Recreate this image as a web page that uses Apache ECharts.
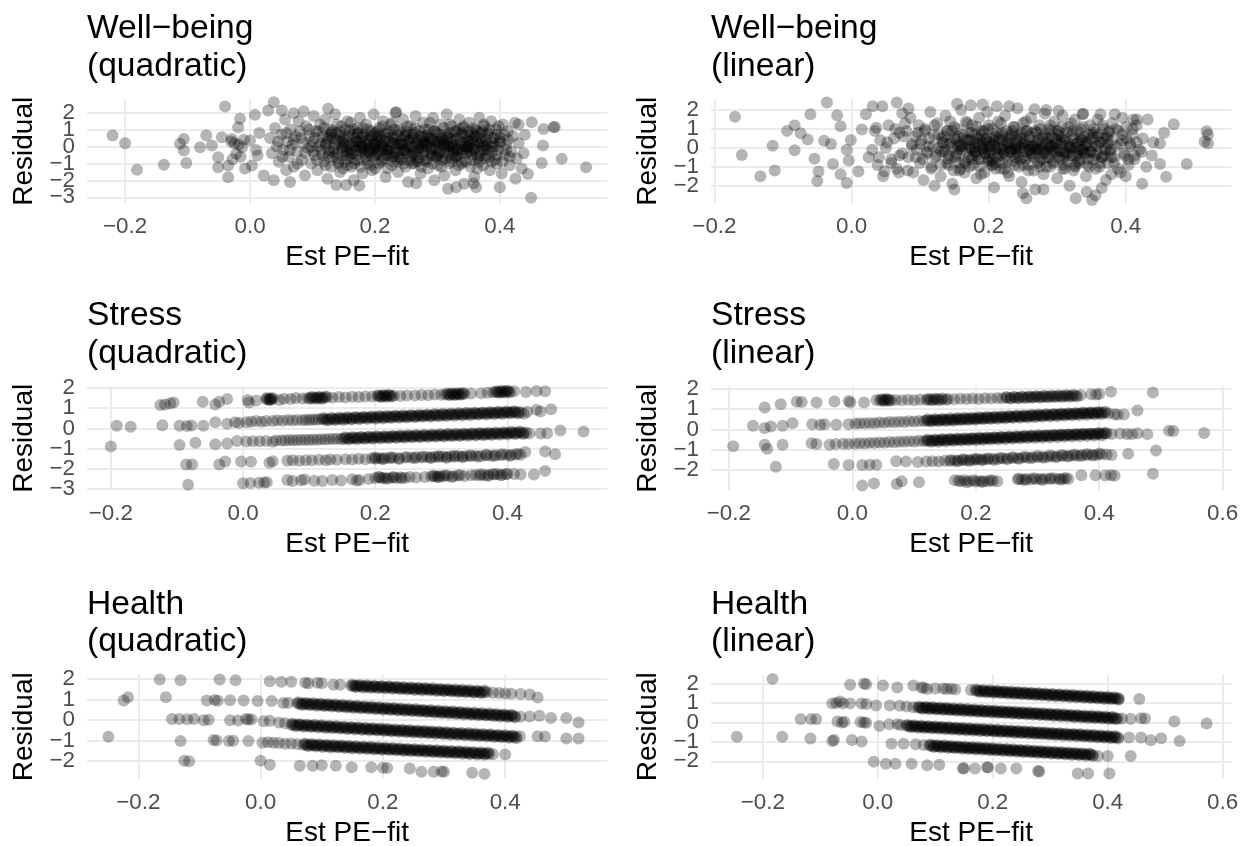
<!DOCTYPE html>
<html><head><meta charset="utf-8">
<script src="https://cdn.jsdelivr.net/npm/echarts@6/dist/echarts.min.js"></script>
<style>html,body{margin:0;padding:0;background:#fff}#c{width:1248px;height:846px}</style>
</head><body><div id="c"></div>
<script>
// ---------- tick labels ----------
const xTicks4 = [-0.2, 0, 0.2, 0.4];
const xTicks5 = [-0.2, 0, 0.2, 0.4, 0.6];
const yTicks6 = [-3, -2, -1, 0, 1, 2];
const yTicks5 = [-2, -1, 0, 1, 2];
const titles = ['Well\u2212being\n(quadratic)','Well\u2212being\n(linear)','Stress\n(quadratic)','Stress\n(linear)','Health\n(quadratic)','Health\n(linear)'];
const xName = 'Est PE\u2212fit';
const yName = 'Residual';

// ---------- data: [Est PE-fit, Residual] ----------
const wbQuadOut = [[-.22,.65],[-.2,.2],[-.181,-1.38],[-.138,-1.08],[-.112,.16],[-.106,.45],[-.102,-.97],[-.106,-.24],[-.08,-.04],[-.07,.65],[-.061,.06],[-.051,-.63],[-.051,-1.22],[-.045,.55],[-.04,2.36],[-.035,-1.81],[-.035,-1.12],[-.029,.45],[-.022,-.43],[-.019,1.14],[-.016,1.64],[-.013,-.04],[0,.35],[.003,-1.12],[.008,1.87],[.012,-.53],[.022,-1.71],[.029,2.13],[.038,2.62],[.038,-2.0],[.051,2.13],[.064,-2.1],[.07,1.97],[.086,2.09],[.125,2.23],[.138,-2.27],[.154,-2.27],[.175,-2.3],[.234,2.03],[.266,-2.17],[.317,-2.5],[.33,-2.4],[.358,-2.17],[.362,-2.4],[.4,-2.4],[.445,-1.62],[.45,-3.03],[.451,1.44],[.43,1.3],[.467,-.97],[.469,.06],[.47,1.04],[.486,1.14],[.488,1.16],[.499,-.73],[.538,-1.22],[-.03,.3],[-.025,.2],[-.018,.1],[-.01,.4],[-.028,-.75],[-.015,-.6],[-.008,-1.3],[.01,-.2],[.015,.8]];
const wbQuadCore = [[.032,.5],[.035,-.4],[.04,1.1],[.043,0],[.046,-.9],[.05,.7],[.053,-.2],[.056,1.6],[.058,-1.4],[.06,.3],
[.062,-.6],[.065,1.0],[.068,.1],[.07,-1.2],[.073,.6],[.076,-.3],[.078,1.5],[.08,.9],[.083,-.8],[.086,.2],[.088,-1.7],[.09,1.2],[.093,-.1],[.095,.6],[.098,-1.0],
[.1,.3],[.102,1.8],[.104,-.5],[.106,.9],[.108,-1.4],[.11,0],[.112,1.3],[.114,-.2],[.116,.6],[.118,-.9],[.12,1.6],[.122,.2],[.124,-1.9],[.126,-.4],[.128,1.0],[.13,-1.2],[.132,.5],[.134,-.1],[.136,1.9],[.138,.8],[.14,-.7],
[.142,.3],[.144,-1.5],[.146,1.2],[.148,-.3],[.15,.6],[.152,-.9],[.154,0],[.156,1.5],[.158,-.5],[.16,.9],[.162,-1.2],[.164,.2],[.166,-2.0],[.168,.5],[.17,-.2],[.172,1.1],[.174,-.8],[.176,1.7],[.178,.1],[.18,-1.6],[.182,.7],[.184,-.4],[.186,1.3],[.188,-1.0],[.19,.4],[.192,-.1],[.194,.9],[.196,-.6],[.198,1.9],[.2,.2],
[.201,-1.3],[.203,.6],[.205,-.3],[.207,1.1],[.209,0],[.211,-.8],[.213,1.5],[.215,.3],[.217,-1.8],[.219,-.5],[.221,.8],[.223,-.1],[.225,1.3],[.227,-1.1],[.229,.5],[.231,-.4],[.233,2.0],[.235,.1],[.237,-1.5],[.239,.9],[.241,-.7],[.243,.4],[.245,1.6],[.247,-.2],[.249,-1.2],[.251,.7],[.253,-2.1],[.255,0],[.257,1.2],[.259,-.6],
[.261,.5],[.263,-1.0],[.265,1.8],[.267,.2],[.269,-.3],[.271,.9],[.273,-1.6],[.275,-.1],[.277,1.4],[.279,.6],[.281,-.8],[.283,.1],[.285,-1.3],[.287,1.0],[.289,-.4],[.291,.4],[.293,1.7],[.295,-2.0],[.297,-.2],[.299,.8],[.301,-1.1],[.303,.3],[.305,1.3],[.307,-.6],[.309,0],[.311,-1.7],[.313,.7],[.315,1.9],[.317,-.3],[.319,-1.0],
[.321,.5],[.323,1.2],[.325,-.5],[.327,.1],[.329,-1.4],[.331,.9],[.333,-.2],[.335,1.6],[.337,.3],[.339,-.9],[.341,1.1],[.343,-2.2],[.345,.6],[.347,-.4],[.349,0],[.351,1.4],[.353,-1.2],[.355,.8],[.357,-.1],[.359,-1.8],[.361,1.0],[.363,.3],[.365,-.7],[.367,1.7],[.369,-.3],[.371,.5],[.373,-1.1],[.375,1.2],[.377,0],[.379,-.5],
[.381,.8],[.384,-1.4],[.386,1.5],[.389,.2],[.392,-.8],[.394,1.0],[.397,-.2],[.4,.5],[.403,-1.6],[.405,1.3],[.408,-.5],[.41,.1],[.413,.9],[.416,-1.1],[.418,-.3],[.421,.6],[.424,1.4],[.427,-.7],[.43,.2],[.435,-1.3],[.44,.7],[.438,-.4],[.425,-1.9],
[.17,.3],[.19,-.3],[.21,.4],[.22,-.2],[.24,.1],[.26,-.4],[.28,.3],[.3,-.5],[.32,0],[.34,-.2],[.36,.6],[.23,-.6],[.25,.9],[.27,-.9],[.29,.5],[.31,.2],[.33,-.6],[.35,.3],[.2,-.5],[.18,0]];
const wbQuadCore2 = [[.101,-.3],[.104,.5],[.107,-.8],[.11,.9],[.113,.2],[.116,-.5],[.119,1.1],[.121,-1.1],[.124,.4],[.127,-.2],[.13,.8],[.133,-.6],[.136,.1],[.139,1.3],[.141,-.9],[.144,.6],[.147,-.1],[.149,-1.3],
[.151,.4],[.153,1.0],[.155,-.3],[.157,-.7],[.159,.1],[.161,1.4],[.163,-.4],[.165,.7],[.167,-1.0],[.169,.3],[.171,-.5],[.173,.8],[.175,0],[.177,-1.2],[.179,.5],[.181,1.1],[.183,-.2],[.185,.3],[.187,-.8],[.189,1.0],[.191,-.4],[.193,.6],[.195,-1.4],[.197,.2],[.199,-.1],
[.2,.8],[.202,-.5],[.204,.3],[.206,-1.0],[.208,.6],[.21,-.2],[.212,1.2],[.214,-.7],[.216,0],[.218,.5],[.22,-1.3],[.222,.9],[.224,-.4],[.226,.2],[.228,1.4],[.23,-.9],[.232,.4],[.234,-.1],[.236,.7],[.238,-.6],[.24,1.0],[.242,-.3],[.244,.1],[.246,-1.0],[.248,.6],[.25,-.4],[.252,1.2],[.254,.3],[.256,-.8],[.258,0],
[.26,.7],[.262,-.3],[.264,1.1],[.266,-.9],[.268,.4],[.27,-.1],[.272,.6],[.274,-1.2],[.276,.2],[.278,-.5],[.28,1.0],[.282,0],[.284,-.7],[.286,.5],[.288,1.4],[.29,-.2],[.292,-1.0],[.294,.3],[.296,.9],[.298,-.6],[.3,.2],
[.302,-.4],[.304,.7],[.306,-1.2],[.308,.4],[.31,1.1],[.312,-.1],[.314,-.7],[.316,.5],[.318,0],[.32,1.3],[.322,-.9],[.324,.3],[.326,-.3],[.328,.9],[.33,-.6],[.332,.5],[.334,-1.1],[.336,.1],[.338,.7],[.34,-.4],[.342,1.2],[.344,0],[.346,-.9],[.348,.4],
[.35,.9],[.352,-.3],[.354,.3],[.356,-.8],[.358,1.1],[.36,-.1],[.362,.6],[.364,-1.3],[.366,.2],[.368,-.5],[.37,.8],[.372,0],[.374,1.3],[.376,-.7],[.378,.4],[.38,-.2],[.383,1.0],[.386,-.9],[.389,.5],[.392,0],[.395,-.5],[.398,1.2],[.401,.3],[.404,-.9],[.407,.7],[.41,-.2],[.413,.4],[.416,-.6],
[.045,.3],[.052,-.6],[.058,.8],[.064,-.2],[.07,.4],[.076,-1.0],[.082,.5],[.088,-.4],[.094,1.0],[.097,0]];
const wbQuadCore3 = [[.121,.1],[.125,-.6],[.129,.7],[.133,-.3],[.137,.4],[.141,-1.0],[.145,.9],[.149,0],
[.153,-.5],[.157,.6],[.161,-.2],[.165,1.0],[.169,-.8],[.173,.3],[.177,-.1],[.181,.6],[.185,-.6],[.189,.1],[.193,-1.1],[.197,.7],
[.201,0],[.203,-.4],[.207,.5],[.211,-.9],[.215,.8],[.219,-.2],[.223,.3],[.227,-.6],[.231,1.0],[.235,-.3],[.239,.2],[.243,-.8],[.247,.6],[.251,-.1],[.255,.4],[.259,-1.0],
[.263,.8],[.267,-.5],[.271,.1],[.275,.6],[.279,-.3],[.283,-.9],[.287,.3],[.291,-.1],[.295,.9],[.299,-.6],
[.303,.1],[.307,.5],[.311,-.4],[.315,0],[.319,.8],[.323,-.7],[.327,.4],[.331,-.2],[.335,1.0],[.339,-1.0],[.343,.2],[.347,-.3],
[.351,.6],[.355,-.5],[.359,.1],[.363,.9],[.367,-.9],[.371,.3],[.375,-.2],[.379,.7],[.383,-.6],[.387,0],[.391,.5],[.395,-1.0],[.399,.2],
[.124,.5],[.132,.9],[.14,-.4],[.148,.3],[.156,-1.1],[.164,-.4],[.172,.8],[.18,-.3],[.188,.4],[.196,-.2],[.204,.9],[.212,.1],[.22,-.5],[.228,.6],[.236,-.9],[.244,.2],[.252,-.4],[.26,.5],[.268,-.7],[.276,0],[.284,.7],[.292,-.5],[.3,.3],[.308,-.8],[.316,.6],[.324,0],[.332,-.5],[.34,.8],[.348,-.1],[.356,.4],[.364,-.6],[.372,.9],[.38,.1],[.388,-.3],[.396,.7],
[.15,.2],[.166,0],[.182,-.1],[.198,.1],[.214,-.1],[.23,.2],[.246,-.2],[.262,0],[.278,.2],[.294,-.1],[.31,.1],[.326,-.1],[.342,0],[.358,-.2],[.374,.1]];

const wbLinOut = [[-.17,1.65],[-.16,-.37],[-.133,-1.5],[-.115,.11],[-.112,-1.2],[-.094,.9],[-.083,1.18],[-.083,-.12],[-.074,.78],[-.064,.45],[-.06,1.78],[-.054,-.58],[-.05,-1.75],[-.048,-1.25],[-.04,.38],[-.036,2.4],[-.03,.2],[-.027,-.85],[-.021,1.72],[-.016,1.14],[-.016,-1.4],[-.007,-1.86],[-.004,-.67],[-.001,.42],[-.007,-.1],[.01,-1.25],[.015,.97],[.021,1.78],[.025,-.49],[.031,2.2],[.036,1.06],[.04,-.49],[.045,2.2],[.048,-1.25],[.066,2.4],[.069,-1.3],[.074,1.83],[.083,2.08],
[.489,-.85],[.518,.88],[.52,.7],[.515,.33],[.52,.24],[.47,1.25],[.456,.8],[.459,-1.53],[.45,.24],[.45,-.85],[.424,-1.9],[.432,1.5],[.438,-.4],[.423,-.22],[.411,1.5],[.4,-1.5],[.379,-1.4],[.365,-2.12],[.351,-2.75],[.327,-2.66],[.356,-2.5],[.25,-2.4],[.255,-2.66],[.343,-2.33],[.28,-2.2],[.15,-2.2],[.121,-2.0],
[.154,2.33],[.174,2.25],[.191,2.3],[.212,2.2],[.23,2.2],[.267,2.05],[.284,2.0],[.302,1.96],[.337,1.78],[.363,1.78],[.384,1.78],[.395,1.6],[.416,1.5]];
const wbLinCore = [[.03,-.1],[.034,.9],[.038,-.9],[.042,.4],[.046,-1.5],[.05,0],[.054,1.2],[.058,-.6],[.062,.5],[.066,-1.1],[.07,.8],[.074,-.3],[.078,1.3],
[.08,.9],[.083,-.5],[.086,1.6],[.088,.2],[.09,-1.3],[.093,.6],[.095,-.1],[.098,1.2],[.1,-.8],[.102,.4],[.105,-1.7],[.107,1.0],[.11,-.3],[.112,.1],[.115,1.9],[.117,-1.0],[.12,.7],
[.122,-.5],[.125,1.3],[.127,0],[.13,-1.5],[.132,.5],[.135,-.2],[.137,1.7],[.14,.9],[.142,-.9],[.145,.3],[.147,-1.9],[.15,1.1],[.152,-.4],[.155,.6],[.157,-1.2],[.16,2.0],[.162,.1],[.165,-.7],[.167,1.4],
[.17,.4],[.172,-1.0],[.174,0],[.176,1.2],[.178,-.4],[.18,.7],[.182,-1.6],[.184,.2],[.186,1.6],[.188,-.6],[.19,.9],[.192,-.1],[.194,-1.3],[.196,.5],[.198,1.9],[.2,-.3],[.202,.1],[.204,-.9],[.206,1.0],[.208,-2.1],[.21,.6],[.212,-.5],[.214,1.4],[.216,0],[.218,-1.1],[.22,.8],[.222,-.2],[.224,1.7],[.226,.3],[.228,-.7],
[.23,-1.5],[.232,.5],[.234,-.1],[.236,1.1],[.238,-.9],[.24,.2],[.242,2.1],[.244,-.4],[.246,.7],[.248,-1.8],[.25,1.3],[.252,0],[.254,-.6],[.256,.9],[.258,-1.2],[.26,.4],[.262,1.6],[.264,-.3],[.266,.1],[.268,-2.2],[.27,.8],[.272,-.8],[.274,1.2],[.276,-.1],[.278,.5],[.28,-1.4],[.282,1.8],[.284,.2],[.286,-.5],[.288,1.0],
[.29,-1.0],[.292,.6],[.294,-.2],[.296,1.4],[.298,0],[.3,-1.6],[.302,.9],[.304,-.6],[.306,.3],[.308,1.7],[.31,-.9],[.312,.5],[.314,-.3],[.316,1.1],[.318,-2.0],[.32,.1],[.322,.7],[.324,-1.2],[.326,1.5],[.328,-.4],[.33,.3],[.332,-.8],[.334,1.0],[.336,-.1],[.338,1.8],[.34,.6],[.342,-1.5],[.344,.2],[.346,-.6],[.348,1.2],
[.35,-.2],[.353,.8],[.356,-1.1],[.359,1.5],[.362,.3],[.365,-.5],[.368,1.0],[.371,-1.7],[.374,.5],[.377,-.2],[.38,1.3],[.383,-.8],[.386,.1],[.389,.9],[.392,-1.3],[.395,.4],[.398,-.4],[.401,1.1],[.404,-.9],[.407,.2],[.41,.7],[.413,-.6],[.416,1.2],[.42,-.1],[.425,.5],[.43,-1.0],[.44,.3],
[.18,-.2],[.2,.3],[.21,-.1],[.22,.4],[.24,-.3],[.25,.2],[.26,-.1],[.27,.3],[.29,.1],[.3,.4],[.31,-.3],[.19,.2],[.23,0],[.28,-.2],[.2,-.6],[.33,-.3],[.24,.6],[.21,-.8]];
const wbLinCore2 = [[.101,.2],[.104,-.6],[.107,.9],[.11,-.2],[.113,.5],[.116,-1.1],[.119,.1],[.121,1.2],[.124,-.4],[.127,.7],[.13,-.9],[.133,.3],[.136,-.1],[.139,.9],[.141,-.6],[.144,1.4],[.147,0],[.149,-1.2],
[.151,.5],[.153,-.3],[.155,1.0],[.157,-.8],[.159,.2],[.161,-.1],[.163,.7],[.165,-1.3],[.167,.4],[.169,1.3],[.171,-.5],[.173,.1],[.175,.8],[.177,-.9],[.179,.3],[.181,-.2],[.183,1.1],[.185,-.6],[.187,.5],[.189,-1.4],[.191,0],[.193,.9],[.195,-.3],[.197,.4],[.199,-.7],
[.2,1.2],[.202,-.1],[.204,.5],[.206,-.6],[.208,.2],[.21,-1.1],[.212,.8],[.214,-.3],[.216,.4],[.218,1.3],[.22,-.8],[.222,.1],[.224,-.5],[.226,.9],[.228,-1.3],[.23,.3],[.232,-.2],[.234,.7],[.236,-.7],[.238,1.1],[.24,-.1],[.242,.4],[.244,-1.0],[.246,0],[.248,.8],[.25,-.5],[.252,.3],[.254,1.4],[.256,-.2],[.258,-.9],
[.26,.6],[.262,-.4],[.264,.1],[.266,-1.2],[.268,.9],[.27,-.1],[.272,.4],[.274,-.7],[.276,1.0],[.278,0],[.28,-.3],[.282,.7],[.284,-1.0],[.286,.3],[.288,-.5],[.29,1.2],[.292,.1],[.294,-.8],[.296,.5],[.298,-.2],[.3,.9],
[.302,-.5],[.304,.2],[.306,1.1],[.308,-1.1],[.31,.4],[.312,-.2],[.314,.8],[.316,-.7],[.318,0],[.32,1.3],[.322,-.4],[.324,.5],[.326,-1.0],[.328,.2],[.33,.9],[.332,-.1],[.334,-.6],[.336,.4],[.338,1.1],[.34,-.3],[.342,.1],[.344,-.9],[.346,.7],[.348,-.2],
[.35,.5],[.352,-.6],[.354,1.0],[.356,.1],[.358,-.3],[.36,.7],[.362,-1.0],[.364,.3],[.366,1.2],[.368,-.4],[.37,0],[.372,.6],[.374,-.8],[.376,.9],[.378,-.1],[.38,.4],[.383,-.5],[.386,1.0],[.389,-1.1],[.392,.2],[.395,.7],[.398,-.3],[.401,.5],[.404,-.6],[.407,.1],[.41,1.0],[.413,-.4],[.416,.3],
[.052,.3],[.058,-.8],[.064,1.0],[.07,-.4],[.076,.6],[.082,-1.2],[.088,.1],[.094,-.5],[.097,.8]];
const wbLinCore3 = [[.131,-.2],[.135,.6],[.139,-.8],[.143,.2],[.147,.9],[.151,-.5],[.155,.1],[.159,-1.1],[.163,.5],[.167,-.2],
[.171,.8],[.175,-.6],[.179,0],[.183,.5],[.187,-1.0],[.191,.3],[.195,-.3],[.199,1.0],[.203,-.7],[.207,.4],[.211,0],[.215,-.4],[.219,.7],[.223,-1.1],[.227,.2],[.231,-.2],[.235,.9],[.239,-.5],[.243,.1],[.247,.5],
[.251,-.9],[.255,.3],[.259,-.1],[.263,.8],[.267,-.5],[.271,.2],[.275,-1.0],[.279,.6],[.283,-.3],[.287,0],[.291,.9],[.295,-.7],[.299,.3],
[.303,-.2],[.307,.6],[.311,-1.1],[.315,.1],[.319,-.4],[.323,.9],[.327,0],[.331,-.7],[.335,.5],[.339,-.2],[.343,.3],[.347,-1.0],[.351,.7],[.355,-.4],[.359,.1],[.363,-.8],[.367,.5],[.371,-.1],[.375,.8],[.379,-.5],
[.134,.3],[.142,-.4],[.15,.5],[.158,0],[.166,-.8],[.174,.4],[.182,-.4],[.19,.7],[.198,-.1],[.206,-.9],[.214,.5],[.222,-.3],[.23,.6],[.238,0],[.246,-.6],[.254,.9],[.262,-.3],[.27,0],[.278,-.6],[.286,.5],[.294,-.1],[.302,.7],[.31,-.5],[.318,.2],[.326,-.9],[.334,.4],[.342,-.3],[.35,.1],[.358,.6],[.366,-.5],[.374,.2],
[.16,.1],[.176,-.1],[.192,0],[.208,.1],[.224,-.1],[.24,0],[.256,.1],[.272,-.1],[.288,.1],[.304,-.1],[.32,0],[.336,-.1]];

const sqA = [[-.125,1.15],[-.118,1.18],[-.11,1.23],[-.105,1.28],[-.061,1.32],[-.042,1.18],[-.036,1.32],[-.024,1.45],[.007,1.4],[.009,1.28],[.02,1.38],
[.035,1.45],[.038,1.42],[.04,1.47],[.042,1.43],[.045,1.46],[.055,1.4],[.062,1.47],[.072,1.45],[.08,1.5],[.09,1.48],[.098,1.5],[.103,1.52],[.107,1.49],[.11,1.51],[.114,1.53],[.118,1.5],[.122,1.52],[.127,1.54],[.135,1.52],[.145,1.55],[.155,1.53],[.165,1.56],[.175,1.55],[.185,1.58],[.195,1.57],[.203,1.6],[.207,1.58],[.211,1.61],[.215,1.59],[.219,1.62],[.223,1.6],[.228,1.61],[.238,1.6],[.248,1.63],[.26,1.62],[.27,1.65],[.28,1.64],[.29,1.67],[.3,1.66],[.306,1.68],[.311,1.67],[.315,1.7],[.319,1.68],[.323,1.7],[.327,1.69],[.331,1.71],[.335,1.7],[.345,1.72],[.36,1.73],[.37,1.76],[.378,1.78],[.382,1.8],[.386,1.79],[.39,1.82],[.394,1.8],[.398,1.83],[.402,1.81],[.41,1.84],[.428,1.8],[.444,1.85],[.457,1.83]];
const sqB = [[-.191,.13],[-.17,.08],[-.122,.15],[-.096,.13],[-.085,.12],[-.078,.14],[-.06,.13],[-.042,.3],[-.024,.23],[-.012,.3],[-.006,.26],[.005,.3],[.012,.33],
[.02,.36],[.028,.33],[.035,.37],[.045,.36],[.052,.4],[.06,.38],[.068,.41],[.075,.39],[.082,.42],[.09,.4],[.095,.43],[.1,.42],[.105,.44],[.11,.43],[.115,.45],
[.12,.46],[.124,.43],[.128,.47],[.132,.44],[.136,.48],[.14,.45],[.144,.49],[.148,.46],[.152,.5],[.156,.47],[.16,.51],[.164,.48],[.168,.52],[.172,.5],[.176,.53],[.18,.51],[.184,.54],[.188,.52],[.192,.55],[.196,.53],[.2,.56],[.204,.53],[.208,.57],[.212,.54],[.216,.58],[.22,.55],[.224,.59],[.228,.56],[.232,.6],[.236,.57],[.24,.6],[.244,.58],[.248,.61],[.252,.59],[.256,.62],[.26,.6],[.264,.63],[.268,.61],[.272,.64],[.276,.62],[.28,.65],[.284,.63],[.288,.66],[.292,.64],[.296,.67],[.3,.65],[.304,.68],[.308,.66],[.312,.69],[.316,.67],[.32,.7],[.324,.68],[.328,.71],[.332,.69],[.336,.72],[.34,.7],[.344,.73],[.348,.71],[.352,.74],[.356,.72],[.36,.75],[.364,.73],[.368,.76],[.372,.74],[.376,.77],[.38,.75],[.384,.78],[.388,.76],[.392,.79],[.396,.77],[.4,.8],[.404,.78],[.408,.81],[.412,.79],[.416,.81],[.42,.8],
[.425,.72],[.43,.82],[.444,.92],[.45,.84],[.466,.94]];
const sqB2 = [[.122,.51],[.128,.39],[.134,.52],[.14,.41],[.146,.54],[.152,.42],[.158,.55],[.164,.44],[.17,.56],[.176,.45],[.182,.58],[.188,.47],[.194,.59],[.2,.48],[.206,.61],[.212,.49],[.218,.62],[.224,.51],[.23,.64],[.236,.52],[.242,.65],[.248,.54],[.254,.66],[.26,.55],[.266,.68],[.272,.57],[.278,.69],[.284,.58],[.29,.71],[.296,.6],[.302,.72],[.308,.61],[.314,.74],[.32,.62],[.326,.75],[.332,.64],[.338,.77],[.344,.65],[.35,.78],[.356,.67],[.362,.79],[.368,.68],[.374,.81],[.38,.7],[.386,.82],[.392,.71],[.398,.84],[.404,.73],[.41,.85],[.416,.74]];
const sqC = [[-.2,-.9],[-.096,-.82],[-.072,-.71],[-.042,-.78],[-.024,-.75],[-.009,-.62],[.005,-.65],[.015,-.64],[.025,-.63],[.035,-.62],[.045,-.66],[.05,-.6],
[.058,-.6],[.064,-.6],[.07,-.58],[.076,-.59],[.082,-.57],[.088,-.58],[.094,-.56],[.1,-.57],[.106,-.55],[.112,-.56],[.118,-.54],[.124,-.55],[.13,-.52],[.136,-.53],[.142,-.51],[.148,-.52],
[.152,-.52],[.156,-.48],[.16,-.5],[.164,-.47],[.168,-.49],[.172,-.46],[.176,-.49],[.18,-.45],[.184,-.48],[.188,-.44],[.192,-.47],[.196,-.43],[.2,-.46],[.204,-.43],[.208,-.45],[.212,-.42],[.216,-.45],[.22,-.41],[.224,-.44],[.228,-.4],[.232,-.43],[.236,-.39],[.24,-.42],[.244,-.38],[.248,-.41],[.252,-.38],[.256,-.4],[.26,-.37],[.264,-.4],[.268,-.36],[.272,-.39],[.276,-.35],[.28,-.38],[.284,-.35],[.288,-.37],[.292,-.34],[.296,-.36],[.3,-.33],[.304,-.36],[.308,-.32],[.312,-.35],[.316,-.31],[.32,-.34],[.324,-.31],[.328,-.33],[.332,-.3],[.336,-.32],[.34,-.29],[.344,-.31],[.348,-.28],[.352,-.3],[.356,-.27],[.36,-.3],[.364,-.26],[.368,-.29],[.372,-.26],[.376,-.28],[.38,-.25],[.384,-.27],[.388,-.24],[.392,-.26],[.396,-.23],[.4,-.25],[.404,-.22],[.408,-.24],[.412,-.21],[.416,-.23],[.42,-.2],[.424,-.23],[.428,-.2],
[.433,-.25],[.45,-.25],[.46,-.24],[.48,-.11],[.515,-.16]];
const sqC2 = [[.154,-.44],[.16,-.55],[.166,-.43],[.172,-.54],[.178,-.41],[.184,-.53],[.19,-.4],[.196,-.51],[.202,-.39],[.208,-.5],[.214,-.38],[.22,-.49],[.226,-.36],[.232,-.48],[.238,-.35],[.244,-.46],[.25,-.34],[.256,-.45],[.262,-.33],[.268,-.44],[.274,-.31],[.28,-.43],[.286,-.3],[.292,-.41],[.298,-.29],[.304,-.4],[.31,-.27],[.316,-.39],[.322,-.26],[.328,-.38],[.334,-.25],[.34,-.36],[.346,-.24],[.352,-.35],[.358,-.22],[.364,-.34],[.37,-.21],[.376,-.33],[.382,-.2],[.388,-.31],[.394,-.19],[.4,-.3],[.406,-.17],[.412,-.29],[.418,-.16],[.424,-.28]];
const sqD = [[-.086,-1.78],[-.077,-1.78],[-.036,-1.78],[-.027,-1.64],[-.003,-1.64],[.012,-1.65],[.04,-1.7],[.045,-1.62],
[.067,-1.6],[.075,-1.58],[.085,-1.6],[.095,-1.57],[.104,-1.58],[.115,-1.55],[.125,-1.57],[.132,-1.54],[.142,-1.55],[.155,-1.52],[.165,-1.54],[.175,-1.5],[.185,-1.52],[.195,-1.48],[.2,-1.5],[.205,-1.47],[.21,-1.49],[.215,-1.46],[.222,-1.48],[.228,-1.45],[.236,-1.47],[.245,-1.44],[.255,-1.45],[.262,-1.42],[.27,-1.44],[.278,-1.41],[.284,-1.43],[.29,-1.4],[.296,-1.42],[.302,-1.39],[.308,-1.41],[.314,-1.38],[.32,-1.4],[.326,-1.37],[.332,-1.39],[.338,-1.36],[.345,-1.38],[.352,-1.35],[.36,-1.36],[.368,-1.33],[.375,-1.35],[.382,-1.32],[.39,-1.33],[.398,-1.3],[.405,-1.31],[.412,-1.29],[.42,-1.3],
[.427,-1.17],[.457,-1.14],[.472,-1.28]];
const sqE = [[-.083,-2.79],[0,-2.71],[.011,-2.7],[.024,-2.69],[.032,-2.68],[.036,-2.66],[.067,-2.55],[.075,-2.6],[.088,-2.56],[.093,-2.53],[.108,-2.59],[.12,-2.6],[.135,-2.55],[.148,-2.57],[.165,-2.52],[.172,-2.58],[.176,-2.55],[.19,-2.5],[.2,-2.45],[.205,-2.42],[.21,-2.47],[.214,-2.44],[.22,-2.46],[.226,-2.43],[.232,-2.45],[.238,-2.42],[.245,-2.44],[.252,-2.4],[.262,-2.43],[.275,-2.4],[.285,-2.38],[.29,-2.36],[.294,-2.39],[.298,-2.35],[.303,-2.37],[.31,-2.34],[.318,-2.36],[.325,-2.33],[.335,-2.35],[.345,-2.32],[.352,-2.3],[.358,-2.33],[.365,-2.3],[.372,-2.31],[.38,-2.28],[.385,-2.26],[.392,-2.29],[.398,-2.27],[.41,-2.26],[.42,-2.28],[.44,-2.28],[.457,-2.1]];
const sqExtra = [[.036,1.5],[.041,1.4],[.044,1.5],[.101,1.47],[.105,1.56],[.112,1.46],[.116,1.56],[.12,1.47],[.125,1.57],[.205,1.64],[.209,1.55],[.213,1.65],[.217,1.56],[.221,1.66],[.225,1.57],[.309,1.72],[.313,1.64],[.317,1.73],[.321,1.65],[.325,1.74],[.329,1.66],[.333,1.75],[.384,1.84],[.388,1.76],[.392,1.86],[.396,1.77],[.4,1.86],[.404,1.78],
[.2,-1.44],[.212,-1.52],[.224,-1.43],[.236,-1.51],[.248,-1.41],[.26,-1.48],[.272,-1.39],[.284,-1.47],[.296,-1.37],[.308,-1.45],[.32,-1.35],[.332,-1.43],[.344,-1.33],[.356,-1.4],[.368,-1.3],[.38,-1.37],[.392,-1.28],[.404,-1.35],[.416,-1.26],
[.207,-2.4],[.217,-2.49],[.228,-2.4],[.24,-2.47],[.288,-2.33],[.296,-2.41],[.306,-2.32],[.316,-2.4],[.328,-2.3],[.36,-2.27],[.37,-2.35],[.378,-2.25],[.39,-2.32],[.4,-2.24]];

const slA = [[-.142,1.08],[-.116,1.24],[-.09,1.36],[-.082,1.35],[-.058,1.32],[-.029,1.37],[-.006,1.4],[-.003,1.32],[.019,1.32],[.039,1.45],
[.045,1.42],[.05,1.46],[.054,1.43],[.058,1.47],[.062,1.44],[.07,1.45],[.08,1.43],[.09,1.46],[.1,1.44],[.11,1.47],[.12,1.45],[.126,1.48],[.132,1.46],[.138,1.49],[.145,1.47],[.155,1.5],[.165,1.48],[.175,1.51],[.185,1.5],[.195,1.52],[.205,1.5],[.215,1.53],[.225,1.52],[.235,1.55],[.243,1.53],[.25,1.56],[.257,1.55],[.264,1.57],[.27,1.56],[.277,1.58],[.284,1.57],[.29,1.6],[.296,1.59],[.302,1.61],[.308,1.6],[.314,1.62],[.32,1.61],[.326,1.63],[.332,1.62],[.338,1.64],[.344,1.63],[.35,1.65],[.356,1.64],[.362,1.66],[.37,1.68],
[.387,1.73],[.395,1.72],[.4,1.74],[.419,1.85],[.487,1.81]];
const slB = [[-.161,.18],[-.142,.07],[-.132,.15],[-.113,.18],[-.097,.31],[-.065,.26],[-.052,.23],[-.045,.25],[-.026,.23],[-.006,.26],
[.005,.28],[.012,.3],[.02,.29],[.028,.32],[.036,.31],[.044,.34],[.052,.33],[.06,.36],[.068,.35],[.076,.38],[.084,.37],[.092,.4],[.1,.39],[.108,.42],[.116,.41],
[.12,.44],[.124,.43],[.128,.45],[.132,.44],[.136,.46],[.14,.45],[.144,.47],[.148,.46],[.152,.48],[.156,.47],[.16,.49],[.164,.48],[.168,.5],[.172,.49],[.176,.51],[.18,.5],[.184,.52],[.188,.51],[.192,.53],[.196,.52],[.2,.54],[.204,.55],[.208,.54],[.212,.56],[.216,.55],[.22,.57],[.224,.56],[.228,.58],[.232,.57],[.236,.59],[.24,.6],[.244,.59],[.248,.61],[.252,.6],[.256,.62],[.26,.61],[.264,.63],[.268,.64],[.272,.63],[.276,.65],[.28,.64],[.284,.66],[.288,.65],[.292,.67],[.296,.68],[.3,.67],[.304,.69],[.308,.68],[.312,.7],[.316,.71],[.32,.7],[.324,.72],[.328,.71],[.332,.73],[.336,.72],[.34,.74],[.344,.75],[.348,.74],[.352,.76],[.356,.75],[.36,.77],[.364,.76],[.368,.78],[.372,.79],[.376,.78],[.38,.8],[.384,.79],[.388,.81],[.392,.8],[.396,.82],[.4,.81],[.404,.83],[.408,.82],
[.415,.78],[.425,.75],[.43,.72],[.44,.74],[.462,.93]];
const slB2 = [[.122,.5],[.128,.39],[.134,.51],[.14,.4],[.146,.53],[.152,.42],[.158,.55],[.164,.43],[.17,.56],[.176,.45],[.182,.58],[.188,.46],[.194,.59],[.2,.48],[.206,.61],[.212,.5],[.218,.62],[.224,.51],[.23,.64],[.236,.53],[.242,.65],[.248,.54],[.254,.67],[.26,.56],[.266,.69],[.272,.57],[.278,.7],[.284,.59],[.29,.72],[.296,.6],[.302,.73],[.308,.62],[.314,.75],[.32,.64],[.326,.76],[.332,.65],[.338,.78],[.344,.67],[.35,.8],[.356,.68],[.362,.81],[.368,.7],[.374,.83],[.38,.71],[.386,.84],[.392,.73],[.398,.86],[.404,.75],[.41,.87]];
const slC = [[-.193,-.83],[-.142,-.75],[-.138,-.95],[-.113,-.75],[-.066,-.68],[-.058,-.72],[-.037,-.75],[-.027,-.72],[-.015,-.7],[-.006,-.72],
[.004,-.7],[.012,-.68],[.02,-.69],[.028,-.66],[.036,-.67],[.044,-.64],[.052,-.65],[.06,-.62],[.068,-.63],[.076,-.6],[.084,-.61],[.092,-.58],[.1,-.59],[.108,-.56],[.116,-.57],
[.12,-.55],[.124,-.56],[.128,-.54],[.132,-.55],[.136,-.53],[.14,-.54],[.144,-.52],[.148,-.53],[.152,-.51],[.156,-.52],[.16,-.5],[.164,-.51],[.168,-.49],[.172,-.5],[.176,-.48],[.18,-.49],[.184,-.47],[.188,-.48],[.192,-.46],[.196,-.47],[.2,-.45],[.204,-.46],[.208,-.44],[.212,-.45],[.216,-.43],[.22,-.44],[.224,-.42],[.228,-.43],[.232,-.41],[.236,-.42],[.24,-.4],[.244,-.41],[.248,-.39],[.252,-.4],[.256,-.38],[.26,-.39],[.264,-.37],[.268,-.38],[.272,-.36],[.276,-.37],[.28,-.35],[.284,-.36],[.288,-.34],[.292,-.35],[.296,-.33],[.3,-.34],[.304,-.32],[.308,-.33],[.312,-.31],[.316,-.32],[.32,-.3],[.324,-.31],[.328,-.29],[.332,-.3],[.336,-.28],[.34,-.29],[.344,-.27],[.348,-.28],[.352,-.26],[.356,-.27],[.36,-.25],[.364,-.26],[.368,-.24],[.372,-.25],[.376,-.23],[.38,-.24],[.384,-.22],[.388,-.23],[.392,-.21],[.396,-.22],[.4,-.2],[.404,-.21],[.408,-.19],[.412,-.2],
[.42,-.22],[.434,-.2],[.445,-.22],[.453,-.23],[.462,-.19],[.478,-.23],[.513,-.07],[.52,-.08],[.57,-.17]];
const slC2 = [[.122,-.5],[.128,-.61],[.134,-.49],[.14,-.6],[.146,-.47],[.152,-.59],[.158,-.46],[.164,-.57],[.17,-.45],[.176,-.56],[.182,-.43],[.188,-.54],[.194,-.42],[.2,-.53],[.206,-.4],[.212,-.52],[.218,-.39],[.224,-.5],[.23,-.38],[.236,-.49],[.242,-.36],[.248,-.48],[.254,-.35],[.26,-.46],[.266,-.33],[.272,-.45],[.278,-.32],[.284,-.43],[.29,-.31],[.296,-.42],[.302,-.29],[.308,-.41],[.314,-.28],[.32,-.39],[.326,-.27],[.332,-.38],[.338,-.25],[.344,-.36],[.35,-.24],[.356,-.35],[.362,-.22],[.368,-.34],[.374,-.21],[.38,-.32],[.386,-.2],[.392,-.31],[.398,-.18],[.404,-.3],[.41,-.17]];
const slD = [[-.124,-1.83],[-.03,-1.7],[-.006,-1.75],[.016,-1.75],[.028,-1.74],[.039,-1.73],[.071,-1.56],[.087,-1.58],[.106,-1.6],
[.12,-1.58],[.13,-1.56],[.14,-1.57],[.15,-1.54],[.158,-1.55],[.166,-1.52],[.172,-1.53],[.178,-1.5],[.184,-1.51],[.19,-1.49],[.196,-1.5],[.202,-1.47],[.208,-1.48],[.214,-1.46],[.22,-1.47],[.228,-1.44],[.236,-1.45],[.244,-1.42],[.252,-1.43],[.26,-1.4],[.268,-1.41],[.276,-1.38],[.284,-1.39],[.292,-1.36],[.3,-1.37],[.308,-1.34],[.316,-1.35],[.324,-1.32],[.332,-1.33],[.34,-1.3],[.348,-1.31],[.356,-1.28],[.364,-1.29],[.372,-1.26],[.38,-1.27],[.388,-1.24],[.396,-1.25],[.404,-1.22],[.412,-1.23],
[.42,-1.25],[.447,-1.2],[.492,-1.04]];
const slE = [[.016,-2.76],[.035,-2.65],[.072,-2.68],[.08,-2.55],[.108,-2.6],[.166,-2.5],[.172,-2.52],[.185,-2.6],[.19,-2.55],[.2,-2.56],[.206,-2.53],[.213,-2.55],[.22,-2.54],[.228,-2.52],[.235,-2.55],[.268,-2.45],[.275,-2.46],[.282,-2.44],[.29,-2.45],[.298,-2.43],[.305,-2.44],[.312,-2.42],[.32,-2.44],[.328,-2.41],[.335,-2.43],[.342,-2.42],[.35,-2.44],[.371,-2.25],[.394,-2.25],[.41,-2.26],[.419,-2.25],[.425,-2.28],[.487,-2.18]];
const slExtra = [[.047,1.48],[.051,1.4],[.055,1.49],[.06,1.41],[.122,1.5],[.128,1.43],[.134,1.51],[.14,1.44],[.146,1.52],[.152,1.46],[.25,1.6],[.256,1.52],[.262,1.61],[.268,1.53],[.274,1.62],[.28,1.54],[.286,1.63],[.292,1.56],[.298,1.64],[.304,1.57],[.31,1.65],[.316,1.58],[.322,1.66],[.328,1.59],[.334,1.67],[.34,1.6],[.346,1.68],[.352,1.61],[.358,1.69],[.364,1.62],
[.16,-1.5],[.17,-1.58],[.18,-1.47],[.19,-1.55],[.2,-1.44],[.21,-1.52],[.22,-1.42],[.23,-1.5],[.24,-1.39],[.25,-1.47],[.26,-1.36],[.27,-1.44],[.28,-1.34],[.29,-1.41],[.3,-1.31],[.31,-1.39],[.32,-1.28],[.33,-1.36],[.34,-1.26],[.35,-1.33],[.36,-1.23],[.37,-1.31],[.38,-1.21],[.39,-1.28],[.4,-1.18],
[.176,-2.55],[.182,-2.5],[.196,-2.5],[.21,-2.58],[.224,-2.5],[.27,-2.42],[.28,-2.49],[.294,-2.4],[.308,-2.48],[.322,-2.4],[.338,-2.46],[.346,-2.39]];

const hqA = [[-.165,1.98],[-.131,1.95],[-.067,1.98],[-.041,1.95],[.015,1.9],[.034,1.87],[.05,1.87],[.073,1.82],[.078,1.8],[.093,1.82],[.1,1.8],[.119,1.73],[.13,1.72],
[.148,1.68],[.152,1.66],[.155,1.69],[.158,1.65],[.162,1.67],[.166,1.64],[.17,1.66],[.174,1.63],[.178,1.65],[.182,1.62],[.186,1.64],[.19,1.61],[.194,1.63],[.198,1.6],[.202,1.62],[.206,1.59],[.21,1.61],[.214,1.58],[.218,1.6],[.222,1.57],[.226,1.59],[.23,1.56],[.234,1.57],[.238,1.54],[.242,1.56],[.246,1.53],[.25,1.55],[.254,1.52],[.258,1.54],[.262,1.51],[.266,1.53],[.27,1.5],[.274,1.52],[.278,1.49],[.282,1.5],[.286,1.47],[.29,1.49],[.294,1.46],[.298,1.48],[.302,1.45],[.306,1.47],[.31,1.44],[.314,1.45],[.318,1.42],[.322,1.44],[.326,1.41],[.33,1.43],[.334,1.4],[.338,1.42],[.342,1.39],[.346,1.4],[.35,1.37],[.354,1.39],[.358,1.36],[.362,1.38],[.366,1.35],[.37,1.37],
[.38,1.34],[.39,1.32],[.4,1.3],[.41,1.29],[.425,1.27],[.44,1.25],[.453,1.1]];
const hqA2 = [[.15,1.73],[.156,1.6],[.162,1.71],[.168,1.58],[.174,1.7],[.18,1.57],[.186,1.68],[.192,1.55],[.198,1.66],[.204,1.54],[.21,1.65],[.216,1.52],[.222,1.63],[.228,1.5],[.234,1.61],[.24,1.49],[.246,1.6],[.252,1.47],[.258,1.58],[.264,1.45],[.27,1.57],[.276,1.44],[.282,1.55],[.288,1.42],[.294,1.53],[.3,1.41],[.306,1.52],[.312,1.39],[.318,1.5],[.324,1.37],[.33,1.49],[.336,1.36],[.342,1.47],[.348,1.34],[.354,1.45],[.36,1.32],[.366,1.44]];
const hqB = [[-.224,.96],[-.217,1.12],[-.155,1.12],[-.088,.96],[-.075,.98],[-.07,.95],[-.05,.97],[-.028,.96],[-.005,.93],[.018,.93],[.037,.83],[.045,.85],
[.06,.82],[.064,.79],[.068,.81],[.072,.78],[.076,.8],[.08,.77],[.084,.78],[.088,.75],[.092,.77],[.096,.74],[.1,.76],[.104,.72],[.108,.74],[.112,.71],[.116,.73],[.12,.7],[.124,.71],[.128,.68],[.132,.7],[.136,.67],[.14,.69],[.144,.65],[.148,.67],[.152,.64],[.156,.66],[.16,.63],[.164,.64],[.168,.61],[.172,.63],[.176,.6],[.18,.62],[.184,.58],[.188,.6],[.192,.57],[.196,.59],[.2,.56],[.204,.57],[.208,.54],[.212,.56],[.216,.53],[.22,.55],[.224,.51],[.228,.53],[.232,.5],[.236,.52],[.24,.49],[.244,.5],[.248,.47],[.252,.49],[.256,.46],[.26,.48],[.264,.44],[.268,.46],[.272,.43],[.276,.45],[.28,.42],[.284,.43],[.288,.4],[.292,.42],[.296,.39],[.3,.41],[.304,.37],[.308,.39],[.312,.36],[.316,.38],[.32,.35],[.324,.36],[.328,.33],[.332,.35],[.336,.32],[.34,.34],[.344,.3],[.348,.32],[.352,.29],[.356,.31],[.36,.28],[.364,.29],[.368,.26],[.372,.28],[.376,.25],[.38,.27],[.384,.23],[.388,.25],[.392,.22],[.396,.24],[.4,.21],[.404,.22],[.408,.19],[.412,.21],[.416,.18],
[.425,.17],[.44,.18],[.456,.21],[.475,.1],[.5,.1],[.52,-.12]];
const hqB2 = [[.062,.87],[.068,.74],[.074,.85],[.08,.72],[.086,.83],[.092,.7],[.098,.81],[.104,.68],[.11,.79],[.116,.66],[.122,.77],[.128,.64],[.134,.75],[.14,.62],[.146,.72],[.152,.59],[.158,.7],[.164,.57],[.17,.68],[.176,.55],[.182,.66],[.188,.53],[.194,.64],[.2,.51],[.206,.62],[.212,.49],[.218,.6],[.224,.47],[.23,.58],[.236,.45],[.242,.56],[.248,.43],[.254,.54],[.26,.41],[.266,.51],[.272,.38],[.278,.49],[.284,.36],[.29,.47],[.296,.34],[.302,.45],[.308,.32],[.314,.43],[.32,.3],[.326,.41],[.332,.28],[.338,.39],[.344,.26],[.35,.37],[.356,.24],[.362,.35],[.368,.22],[.374,.33],[.38,.2],[.386,.3],[.392,.17],[.398,.28],[.404,.15],[.41,.26],[.416,.13]];
const hqC = [[-.145,.05],[-.133,.06],[-.12,.04],[-.109,.05],[-.093,0],[-.085,.02],[-.05,0],[-.037,-.02],[-.024,.05],[-.02,.03],[-.015,.04],[.005,-.05],[.015,-.03],[.03,-.12],[.04,-.15],
[.05,-.22],[.054,-.25],[.058,-.23],[.062,-.26],[.066,-.24],[.07,-.27],[.074,-.26],[.078,-.28],[.082,-.27],[.086,-.3],[.09,-.28],[.094,-.31],[.098,-.29],[.102,-.32],[.106,-.31],[.11,-.34],[.114,-.32],[.118,-.35],[.122,-.33],[.126,-.36],[.13,-.35],[.134,-.37],[.138,-.36],[.142,-.39],[.146,-.37],[.15,-.4],[.154,-.38],[.158,-.41],[.162,-.4],[.166,-.43],[.17,-.41],[.174,-.44],[.178,-.42],[.182,-.45],[.186,-.44],[.19,-.47],[.194,-.45],[.198,-.48],[.202,-.46],[.206,-.49],[.21,-.48],[.214,-.5],[.218,-.49],[.222,-.52],[.226,-.5],[.23,-.53],[.234,-.51],[.238,-.54],[.242,-.53],[.246,-.56],[.25,-.54],[.254,-.57],[.258,-.55],[.262,-.58],[.266,-.57],[.27,-.59],[.274,-.58],[.278,-.61],[.282,-.59],[.286,-.62],[.29,-.6],[.294,-.63],[.298,-.62],[.302,-.65],[.306,-.63],[.31,-.66],[.314,-.64],[.318,-.67],[.322,-.66],[.326,-.68],[.33,-.67],[.334,-.7],[.338,-.68],[.342,-.71],[.346,-.69],[.35,-.72],[.354,-.71],[.358,-.73],[.362,-.72],[.366,-.75],[.37,-.73],[.374,-.76],[.378,-.74],[.382,-.77],[.386,-.76],[.39,-.78],[.394,-.77],[.398,-.8],[.402,-.78],[.406,-.81],[.41,-.79],[.414,-.82],[.418,-.81],
[.424,-.78],[.453,-.78],[.465,-.8],[.5,-.89],[.52,-.89]];
const hqC2 = [[.052,-.17],[.058,-.3],[.064,-.19],[.07,-.32],[.076,-.21],[.082,-.34],[.088,-.23],[.094,-.36],[.1,-.25],[.106,-.38],[.112,-.27],[.118,-.4],[.124,-.29],[.13,-.42],[.136,-.31],[.142,-.44],[.148,-.33],[.154,-.46],[.16,-.35],[.166,-.48],[.172,-.37],[.178,-.5],[.184,-.38],[.19,-.51],[.196,-.4],[.202,-.53],[.208,-.42],[.214,-.55],[.22,-.44],[.226,-.57],[.232,-.46],[.238,-.59],[.244,-.48],[.25,-.61],[.256,-.5],[.262,-.63],[.268,-.52],[.274,-.65],[.28,-.54],[.286,-.67],[.292,-.56],[.298,-.69],[.304,-.58],[.31,-.71],[.316,-.6],[.322,-.73],[.328,-.62],[.334,-.74],[.34,-.63],[.346,-.76],[.352,-.65],[.358,-.78],[.364,-.67],[.37,-.8],[.376,-.69],[.382,-.82],[.388,-.71],[.394,-.84],[.4,-.73],[.406,-.86],[.412,-.75],[.418,-.88]];
const hqD = [[-.249,-.81],[-.131,-1.02],[-.077,-.97],[-.072,-.99],[-.052,-1.02],[-.045,-1.0],[-.02,-1.02],[.003,-1.1],[.012,-1.08],[.021,-1.1],[.03,-1.12],[.04,-1.15],[.05,-1.14],[.06,-1.17],
[.07,-1.21],[.074,-1.19],[.078,-1.22],[.082,-1.2],[.086,-1.23],[.09,-1.22],[.094,-1.24],[.098,-1.23],[.102,-1.26],[.106,-1.24],[.11,-1.27],[.114,-1.25],[.118,-1.28],[.122,-1.27],[.126,-1.29],[.13,-1.28],[.134,-1.3],[.138,-1.29],[.142,-1.32],[.146,-1.3],[.15,-1.33],[.154,-1.31],[.158,-1.34],[.162,-1.33],[.166,-1.35],[.17,-1.34],[.174,-1.36],[.178,-1.35],[.182,-1.37],[.186,-1.36],[.19,-1.39],[.194,-1.37],[.198,-1.4],[.202,-1.38],[.206,-1.41],[.21,-1.4],[.214,-1.42],[.218,-1.41],[.222,-1.43],[.226,-1.42],[.23,-1.44],[.234,-1.43],[.238,-1.46],[.242,-1.44],[.246,-1.47],[.25,-1.45],[.254,-1.48],[.258,-1.47],[.262,-1.49],[.266,-1.48],[.27,-1.5],[.274,-1.49],[.278,-1.51],[.282,-1.5],[.286,-1.53],[.29,-1.51],[.294,-1.54],[.298,-1.52],[.302,-1.55],[.306,-1.54],[.31,-1.56],[.314,-1.55],[.318,-1.57],[.322,-1.56],[.326,-1.58],[.33,-1.57],[.334,-1.6],[.338,-1.58],[.342,-1.61],[.346,-1.59],[.35,-1.62],[.354,-1.61],[.358,-1.63],[.362,-1.62],[.366,-1.64],[.37,-1.63],[.374,-1.65],
[.38,-1.66],[.4,-1.68]];
const hqD2 = [[.072,-1.14],[.078,-1.27],[.084,-1.16],[.09,-1.29],[.096,-1.18],[.102,-1.31],[.108,-1.2],[.114,-1.33],[.12,-1.21],[.126,-1.34],[.132,-1.23],[.138,-1.36],[.144,-1.25],[.15,-1.38],[.156,-1.27],[.162,-1.39],[.168,-1.28],[.174,-1.41],[.18,-1.3],[.186,-1.43],[.192,-1.32],[.198,-1.45],[.204,-1.34],[.21,-1.46],[.216,-1.35],[.222,-1.48],[.228,-1.37],[.234,-1.5],[.24,-1.39],[.246,-1.52],[.252,-1.41],[.258,-1.53],[.264,-1.42],[.27,-1.55],[.276,-1.44],[.282,-1.57],[.288,-1.46],[.294,-1.59],[.3,-1.48],[.306,-1.6],[.312,-1.49],[.318,-1.62],[.324,-1.51],[.33,-1.64],[.336,-1.53],[.342,-1.66],[.348,-1.55],[.354,-1.67],[.36,-1.56],[.366,-1.69],[.372,-1.58]];
const hqE = [[-.125,-1.98],[-.117,-2.0],[0,-1.98],[.015,-2.17],[.064,-2.22],[.085,-2.22],[.1,-2.2],[.123,-2.22],[.149,-2.3],[.181,-2.3],[.2,-2.32],[.207,-2.33],[.244,-2.36],[.263,-2.52],[.283,-2.52],[.296,-2.5],[.3,-2.52],[.346,-2.57],[.366,-2.62]];

const hlA = [[-.183,2.24],[-.048,1.94],[-.024,2.0],[-.02,1.96],[.009,1.9],[.034,1.8],[.062,1.9],[.076,1.8],[.08,1.78],[.086,1.72],[.1,1.75],[.114,1.74],[.12,1.72],[.128,1.73],[.135,1.7],[.162,1.67],
[.17,1.64],[.174,1.61],[.178,1.63],[.182,1.6],[.186,1.61],[.19,1.59],[.194,1.6],[.198,1.57],[.202,1.59],[.206,1.56],[.21,1.58],[.214,1.55],[.218,1.56],[.222,1.54],[.226,1.55],[.23,1.52],[.234,1.54],[.238,1.51],[.242,1.53],[.246,1.5],[.25,1.51],[.254,1.49],[.258,1.5],[.262,1.47],[.266,1.49],[.27,1.46],[.274,1.47],[.278,1.45],[.282,1.46],[.286,1.43],[.29,1.45],[.294,1.42],[.298,1.43],[.302,1.41],[.306,1.42],[.31,1.39],[.314,1.41],[.318,1.38],[.322,1.39],[.326,1.37],[.33,1.38],[.334,1.35],[.338,1.37],[.342,1.34],[.346,1.35],[.35,1.33],[.354,1.34],[.358,1.32],[.362,1.33],[.366,1.3],[.37,1.32],[.374,1.29],[.378,1.3],[.382,1.28],[.386,1.29],[.39,1.27],[.394,1.28],[.398,1.25],[.402,1.27],[.406,1.24],[.41,1.25],[.414,1.23],[.418,1.24],
[.42,1.2],[.455,1.2]];
const hlA2 = [[.172,1.69],[.178,1.56],[.184,1.67],[.19,1.54],[.196,1.65],[.202,1.52],[.208,1.63],[.214,1.5],[.22,1.61],[.226,1.48],[.232,1.59],[.238,1.46],[.244,1.57],[.25,1.44],[.256,1.55],[.262,1.42],[.268,1.53],[.274,1.4],[.28,1.51],[.286,1.38],[.292,1.49],[.298,1.36],[.304,1.47],[.31,1.34],[.316,1.45],[.322,1.33],[.328,1.44],[.334,1.31],[.34,1.42],[.346,1.29],[.352,1.4],[.358,1.27],[.364,1.38],[.37,1.25],[.376,1.36],[.382,1.23],[.388,1.34],[.394,1.21],[.4,1.32],[.406,1.19],[.412,1.3],[.418,1.17]];
const hlB = [[-.079,.98],[-.072,1.0],[-.066,1.08],[-.06,.98],[-.048,.98],[-.028,.97],[-.02,.95],[-.003,.87],[.021,.87],[.038,.86],[.05,.82],[.062,.78],
[.07,.77],[.074,.76],[.078,.76],[.082,.74],[.086,.75],[.09,.73],[.094,.74],[.098,.71],[.102,.72],[.106,.7],[.11,.71],[.114,.69],[.118,.7],[.122,.68],[.126,.68],[.13,.66],[.134,.67],[.138,.65],[.142,.66],[.146,.64],[.15,.65],[.154,.62],[.158,.63],[.162,.61],[.166,.62],[.17,.6],[.174,.61],[.178,.59],[.182,.59],[.186,.57],[.19,.58],[.194,.56],[.198,.57],[.202,.55],[.206,.56],[.21,.54],[.214,.54],[.218,.52],[.222,.53],[.226,.51],[.23,.52],[.234,.5],[.238,.51],[.242,.49],[.246,.49],[.25,.47],[.254,.48],[.258,.46],[.262,.47],[.266,.45],[.27,.46],[.274,.44],[.278,.44],[.282,.42],[.286,.43],[.29,.41],[.294,.42],[.298,.4],[.302,.41],[.306,.38],[.31,.39],[.314,.37],[.318,.38],[.322,.36],[.326,.37],[.33,.35],[.334,.35],[.338,.33],[.342,.34],[.346,.32],[.35,.33],[.354,.31],[.358,.31],[.362,.29],[.366,.3],[.37,.28],[.374,.29],[.378,.27],[.382,.28],[.386,.26],[.39,.26],[.394,.24],[.398,.25],[.402,.23],[.406,.24],[.41,.22],[.414,.22],[.418,.2],
[.425,.2],[.44,.19],[.458,.22],[.465,.2],[.516,.05],[.572,-.05]];
const hlB2 = [[.072,.82],[.078,.7],[.084,.81],[.09,.68],[.096,.79],[.102,.66],[.108,.77],[.114,.64],[.12,.75],[.126,.62],[.132,.73],[.138,.6],[.144,.71],[.15,.58],[.156,.69],[.162,.56],[.168,.67],[.174,.54],[.18,.65],[.186,.52],[.192,.63],[.198,.5],[.204,.61],[.21,.48],[.216,.59],[.222,.47],[.228,.58],[.234,.45],[.24,.56],[.246,.43],[.252,.54],[.258,.41],[.264,.52],[.27,.39],[.276,.5],[.282,.37],[.288,.48],[.294,.35],[.3,.46],[.306,.33],[.312,.44],[.318,.31],[.324,.42],[.33,.29],[.336,.4],[.342,.27],[.348,.38],[.354,.25],[.36,.36],[.366,.23],[.372,.35],[.378,.22],[.384,.33],[.39,.2],[.396,.31],[.402,.18],[.408,.29],[.414,.16]];
const hlC = [[-.134,.17],[-.116,.17],[-.107,.17],[-.07,.05],[-.062,0],[-.058,.03],[-.03,.02],[-.024,0],[-.02,-.02],[.003,-.18],[.02,-.1],[.034,-.1],[.04,-.13],
[.05,-.17],[.054,-.2],[.058,-.18],[.062,-.21],[.066,-.2],[.07,-.22],[.074,-.21],[.078,-.23],[.082,-.22],[.086,-.25],[.09,-.23],[.094,-.26],[.098,-.25],[.102,-.27],[.106,-.26],[.11,-.28],[.114,-.27],[.118,-.3],[.122,-.28],[.126,-.31],[.13,-.3],[.134,-.32],[.138,-.31],[.142,-.33],[.146,-.32],[.15,-.35],[.154,-.33],[.158,-.36],[.162,-.35],[.166,-.37],[.17,-.36],[.174,-.38],[.178,-.37],[.182,-.4],[.186,-.39],[.19,-.41],[.194,-.4],[.198,-.42],[.202,-.41],[.206,-.44],[.21,-.42],[.214,-.45],[.218,-.44],[.222,-.46],[.226,-.45],[.23,-.47],[.234,-.46],[.238,-.49],[.242,-.47],[.246,-.5],[.25,-.49],[.254,-.51],[.258,-.5],[.262,-.52],[.266,-.51],[.27,-.54],[.274,-.53],[.278,-.55],[.282,-.54],[.286,-.56],[.29,-.55],[.294,-.58],[.298,-.56],[.302,-.59],[.306,-.58],[.31,-.6],[.314,-.59],[.318,-.61],[.322,-.6],[.326,-.63],[.33,-.62],[.334,-.64],[.338,-.63],[.342,-.65],[.346,-.64],[.35,-.67],[.354,-.65],[.358,-.68],[.362,-.67],[.366,-.69],[.37,-.68],[.374,-.7],[.378,-.69],[.382,-.72],[.386,-.71],[.39,-.73],[.394,-.72],[.398,-.74],[.402,-.73],[.406,-.76],[.41,-.75],[.414,-.77],[.418,-.76],
[.437,-.78],[.458,-.78],[.475,-.92],[.493,-.81],[.525,-.95]];
const hlC2 = [[.052,-.12],[.058,-.25],[.064,-.14],[.07,-.27],[.076,-.16],[.082,-.29],[.088,-.18],[.094,-.31],[.1,-.2],[.106,-.33],[.112,-.22],[.118,-.35],[.124,-.24],[.13,-.37],[.136,-.26],[.142,-.39],[.148,-.28],[.154,-.41],[.16,-.3],[.166,-.43],[.172,-.32],[.178,-.45],[.184,-.33],[.19,-.46],[.196,-.35],[.202,-.48],[.208,-.37],[.214,-.5],[.22,-.39],[.226,-.52],[.232,-.41],[.238,-.54],[.244,-.43],[.25,-.56],[.256,-.45],[.262,-.58],[.268,-.47],[.274,-.6],[.28,-.49],[.286,-.62],[.292,-.51],[.298,-.64],[.304,-.53],[.31,-.66],[.316,-.55],[.322,-.68],[.328,-.57],[.334,-.69],[.34,-.58],[.346,-.71],[.352,-.6],[.358,-.73],[.364,-.62],[.37,-.75],[.376,-.64],[.382,-.77],[.388,-.66],[.394,-.79],[.4,-.68],[.406,-.81],[.412,-.7],[.418,-.83]];
const hlD = [[-.245,-.74],[-.166,-.74],[-.117,-.83],[-.079,-.95],[-.076,-.9],[-.045,-.9],[-.028,-.98],[.024,-1.1],[.045,-1.1],[.066,-1.12],[.08,-1.16],
[.09,-1.19],[.094,-1.21],[.098,-1.2],[.102,-1.23],[.106,-1.22],[.11,-1.24],[.114,-1.23],[.118,-1.25],[.122,-1.24],[.126,-1.27],[.13,-1.26],[.134,-1.28],[.138,-1.27],[.142,-1.29],[.146,-1.28],[.15,-1.31],[.154,-1.3],[.158,-1.32],[.162,-1.31],[.166,-1.33],[.17,-1.32],[.174,-1.35],[.178,-1.33],[.182,-1.36],[.186,-1.35],[.19,-1.37],[.194,-1.36],[.198,-1.39],[.202,-1.37],[.206,-1.4],[.21,-1.39],[.214,-1.41],[.218,-1.4],[.222,-1.43],[.226,-1.41],[.23,-1.44],[.234,-1.43],[.238,-1.45],[.242,-1.44],[.246,-1.47],[.25,-1.45],[.254,-1.48],[.258,-1.47],[.262,-1.49],[.266,-1.48],[.27,-1.51],[.274,-1.49],[.278,-1.52],[.282,-1.51],[.286,-1.53],[.29,-1.52],[.294,-1.55],[.298,-1.53],[.302,-1.56],[.306,-1.55],[.31,-1.57],[.314,-1.56],[.318,-1.59],[.322,-1.57],[.326,-1.6],[.33,-1.59],[.334,-1.61],[.338,-1.6],[.342,-1.63],[.346,-1.61],[.35,-1.64],[.354,-1.63],[.358,-1.65],[.362,-1.64],[.366,-1.66],[.37,-1.65],[.374,-1.67],
[.383,-1.73],[.4,-1.73],[.44,-1.73]];
const hlD2 = [[.092,-1.14],[.098,-1.27],[.104,-1.16],[.11,-1.29],[.116,-1.18],[.122,-1.31],[.128,-1.2],[.134,-1.33],[.14,-1.22],[.146,-1.35],[.152,-1.24],[.158,-1.37],[.164,-1.26],[.17,-1.39],[.176,-1.28],[.182,-1.41],[.188,-1.3],[.194,-1.43],[.2,-1.32],[.206,-1.45],[.212,-1.34],[.218,-1.47],[.224,-1.36],[.23,-1.49],[.236,-1.38],[.242,-1.51],[.248,-1.4],[.254,-1.53],[.26,-1.42],[.266,-1.55],[.272,-1.44],[.278,-1.57],[.284,-1.46],[.29,-1.59],[.296,-1.48],[.302,-1.61],[.308,-1.5],[.314,-1.63],[.32,-1.52],[.326,-1.65],[.332,-1.54],[.338,-1.67],[.344,-1.56],[.35,-1.69],[.356,-1.58],[.362,-1.71],[.368,-1.6],[.374,-1.73]];
const hlE = [[-.007,-2.02],[.014,-2.12],[.031,-2.12],[.059,-2.12],[.086,-2.2],[.107,-2.18],[.148,-2.37],[.15,-2.36],[.169,-2.37],[.19,-2.3],[.192,-2.32],[.214,-2.37],[.241,-2.37],[.279,-2.5],[.281,-2.52],[.348,-2.63],[.366,-2.63],[.403,-2.63]];

// ---------- layout ----------
const FONT = '"Liberation Sans", Arial, Helvetica, sans-serif';
const colX = [0, 624];
const rowY = [0, 287, 575.5];
const GL = 87, GW = 520.3, GT = 99.3, GH = 104;
const panels = [
  {data: [].concat(wbQuadOut, wbQuadCore, wbQuadCore2, wbQuadCore3), xr: [-0.261, 0.572], yr: [-3.355, 2.79], xt: xTicks4, yt: yTicks6, col: 0, row: 0},
  {data: [].concat(wbLinOut, wbLinCore, wbLinCore2, wbLinCore3), xr: [-0.205, 0.554], yr: [-2.93, 2.57], xt: xTicks4, yt: yTicks5, col: 1, row: 0},
  {data: [].concat(sqA, sqB, sqB2, sqC, sqC2, sqD, sqE, sqExtra), xr: [-0.236, 0.551], yr: [-3.06, 2.08], xt: xTicks4, yt: yTicks6, col: 0, row: 1},
  {data: [].concat(slA, slB, slB2, slC, slC2, slD, slE, slExtra), xr: [-0.229, 0.614], yr: [-2.99, 2.12], xt: xTicks5, yt: yTicks5, col: 1, row: 1},
  {data: [].concat(hqA, hqA2, hqB, hqB2, hqC, hqC2, hqD, hqD2, hqE), xr: [-0.284, 0.567], yr: [-2.86, 2.21], xt: xTicks4, yt: yTicks5, col: 0, row: 2},
  {data: [].concat(hlA, hlA2, hlB, hlB2, hlC, hlC2, hlD, hlD2, hlE), xr: [-0.29, 0.615], yr: [-2.9, 2.45], xt: xTicks5, yt: yTicks5, col: 1, row: 2}
];
const fmtX = v => (v < -1e-9 ? '\u2212' : '') + Math.abs(v).toFixed(1);
const fmtY = v => (v < 0 ? '\u2212' : '') + Math.abs(Math.round(v));

const option = {animation: false, backgroundColor: '#ffffff', title: [], grid: [], xAxis: [], yAxis: [], series: []};
panels.forEach((p, i) => {
  const x0 = colX[p.col], y0 = rowY[p.row];
  option.title.push({text: titles[i], left: x0 + GL, top: y0 + 10, padding: 0,
    textStyle: {fontFamily: FONT, fontSize: 33.6, fontWeight: 'normal', color: '#000', lineHeight: 37.7}});
  option.grid.push({left: x0 + GL, top: y0 + GT, width: GW, height: GH, containLabel: false, outerBoundsMode: 'none'});
  option.xAxis.push({type: 'value', gridIndex: i, min: p.xr[0], max: p.xr[1],
    name: xName, nameLocation: 'middle', nameGap: 40,
    nameTextStyle: {fontFamily: FONT, fontSize: 28, color: '#000'},
    axisLine: {show: false}, axisTick: {show: false, customValues: p.xt},
    axisLabel: {customValues: p.xt, formatter: fmtX, fontFamily: FONT, fontSize: 22.4, color: '#4D4D4D', margin: 13,
      showMinLabel: true, showMaxLabel: true, hideOverlap: false},
    splitLine: {show: true, lineStyle: {color: '#EBEBEB', width: 2}}});
  option.yAxis.push({type: 'value', gridIndex: i, min: p.yr[0], max: p.yr[1],
    name: yName, nameLocation: 'middle', nameGap: 49, nameRotate: 90,
    nameTextStyle: {fontFamily: FONT, fontSize: 28, color: '#000'},
    axisLine: {show: false}, axisTick: {show: false, customValues: p.yt},
    axisLabel: {show: false, customValues: p.yt},
    splitLine: {show: true, lineStyle: {color: '#EBEBEB', width: 2}}});
  option.series.push({type: 'scatter', xAxisIndex: i, yAxisIndex: i, data: p.data, symbol: 'circle', symbolSize: 12,
    itemStyle: {color: 'rgba(0,0,0,0.36)'}, silent: true, large: false, progressive: 0});
});
const chart = echarts.init(document.getElementById('c'), null, {renderer: 'canvas', width: 1248, height: 846});
chart.setOption(option);

// y tick labels: placed through the chart's own y scale (the axis hides overlapping labels, ggplot does not)
const yLabelGraphics = [];
panels.forEach((p, i) => {
  const x0 = colX[p.col];
  p.yt.forEach(v => {
    const pt = chart.convertToPixel({gridIndex: i}, [p.xr[0], v]);
    yLabelGraphics.push({type: 'text', x: x0 + GL - 12, y: pt[1], silent: true, z: 5,
      style: {text: fmtY(v), fill: '#4D4D4D', fontFamily: FONT, fontSize: 22.4, align: 'right', verticalAlign: 'middle'}});
  });
});
chart.setOption({graphic: yLabelGraphics});
</script>
</body></html>
